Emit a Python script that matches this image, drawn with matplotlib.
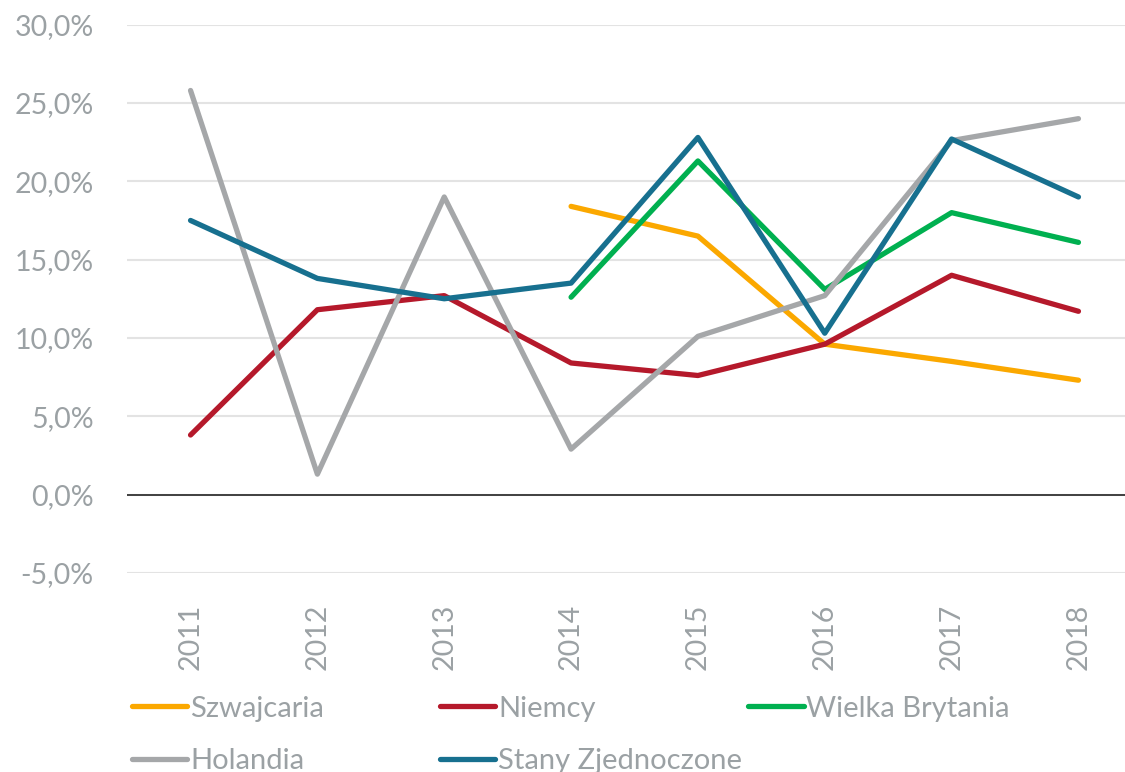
import matplotlib.pyplot as plt
from matplotlib.lines import Line2D
from matplotlib.ticker import FuncFormatter

plt.rcParams['font.family'] = ['Lato', 'DejaVu Sans']

years = [2011, 2012, 2013, 2014, 2015, 2016, 2017, 2018]
yrs_short = [2014, 2015, 2016, 2017, 2018]

szwajcaria = [18.4, 16.5, 9.6, 8.5, 7.3]
niemcy = [3.8, 11.8, 12.7, 8.4, 7.6, 9.6, 14.0, 11.7]
wielka_brytania = [12.6, 21.3, 13.1, 18.0, 16.1]
holandia = [25.8, 1.3, 19.0, 2.9, 10.1, 12.7, 22.6, 24.0]
usa = [17.5, 13.8, 12.5, 13.5, 22.8, 10.3, 22.7, 19.0]

c_orange = '#FBA800'
c_red = '#B5192B'
c_green = '#00B050'
c_gray = '#A5A7A9'
c_blue = '#17708F'
txt = '#9BA1A4'

fig = plt.figure(figsize=(11.25, 7.72), dpi=100)
ax = fig.add_axes([0.113, 0.258, 0.902, 0.71])

lw = 3.8
ax.plot(yrs_short, szwajcaria, color=c_orange, lw=lw, solid_capstyle='round', solid_joinstyle='round')
ax.plot(years, niemcy, color=c_red, lw=lw, solid_capstyle='round', solid_joinstyle='round')
ax.plot(yrs_short, wielka_brytania, color=c_green, lw=lw, solid_capstyle='round', solid_joinstyle='round')
ax.plot(years, holandia, color=c_gray, lw=lw, solid_capstyle='round', solid_joinstyle='round')
ax.plot(years, usa, color=c_blue, lw=lw, solid_capstyle='round', solid_joinstyle='round')

ax.set_xlim(2010.5, 2018.5)
ax.set_ylim(-5, 30)
ax.set_yticks(range(-5, 31, 5))
ax.yaxis.set_major_formatter(FuncFormatter(lambda v, p: f'{v:.1f}%'.replace('.', ',')))
ax.set_xticks(years)
ax.set_xticklabels([str(y) for y in years], rotation=90)
ax.grid(axis='y', color='#E3E3E3', lw=1.5)
ax.set_axisbelow(True)
ax.axhline(0, color='#333333', lw=1.3, zorder=1.5)
for s in ax.spines.values():
    s.set_visible(False)
ax.tick_params(length=0, labelsize=20.5, labelcolor=txt)
ax.tick_params(axis='y', pad=24)
ax.tick_params(axis='x', pad=22)

# legend: three columns of equal width, placed separately
cols = [
    [('Szwajcaria', c_orange), ('Holandia', c_gray)],
    [('Niemcy', c_red), ('Stany Zjednoczone', c_blue)],
    [('Wielka Brytania', c_green)],
]
xs = [0.117, 0.391, 0.665]
for x, entries in zip(xs, cols):
    handles = [Line2D([], [], color=c, lw=lw, solid_capstyle='round') for _, c in entries]
    leg = fig.legend(handles, [n for n, _ in entries], loc='upper left',
                     bbox_to_anchor=(x, 0.099), frameon=False, fontsize=21,
                     handlelength=1.9, handletextpad=0.1, labelspacing=0.9,
                     borderpad=0, borderaxespad=0)
    for t in leg.get_texts():
        t.set_color(txt)

fig.savefig('out.png', dpi=100)
